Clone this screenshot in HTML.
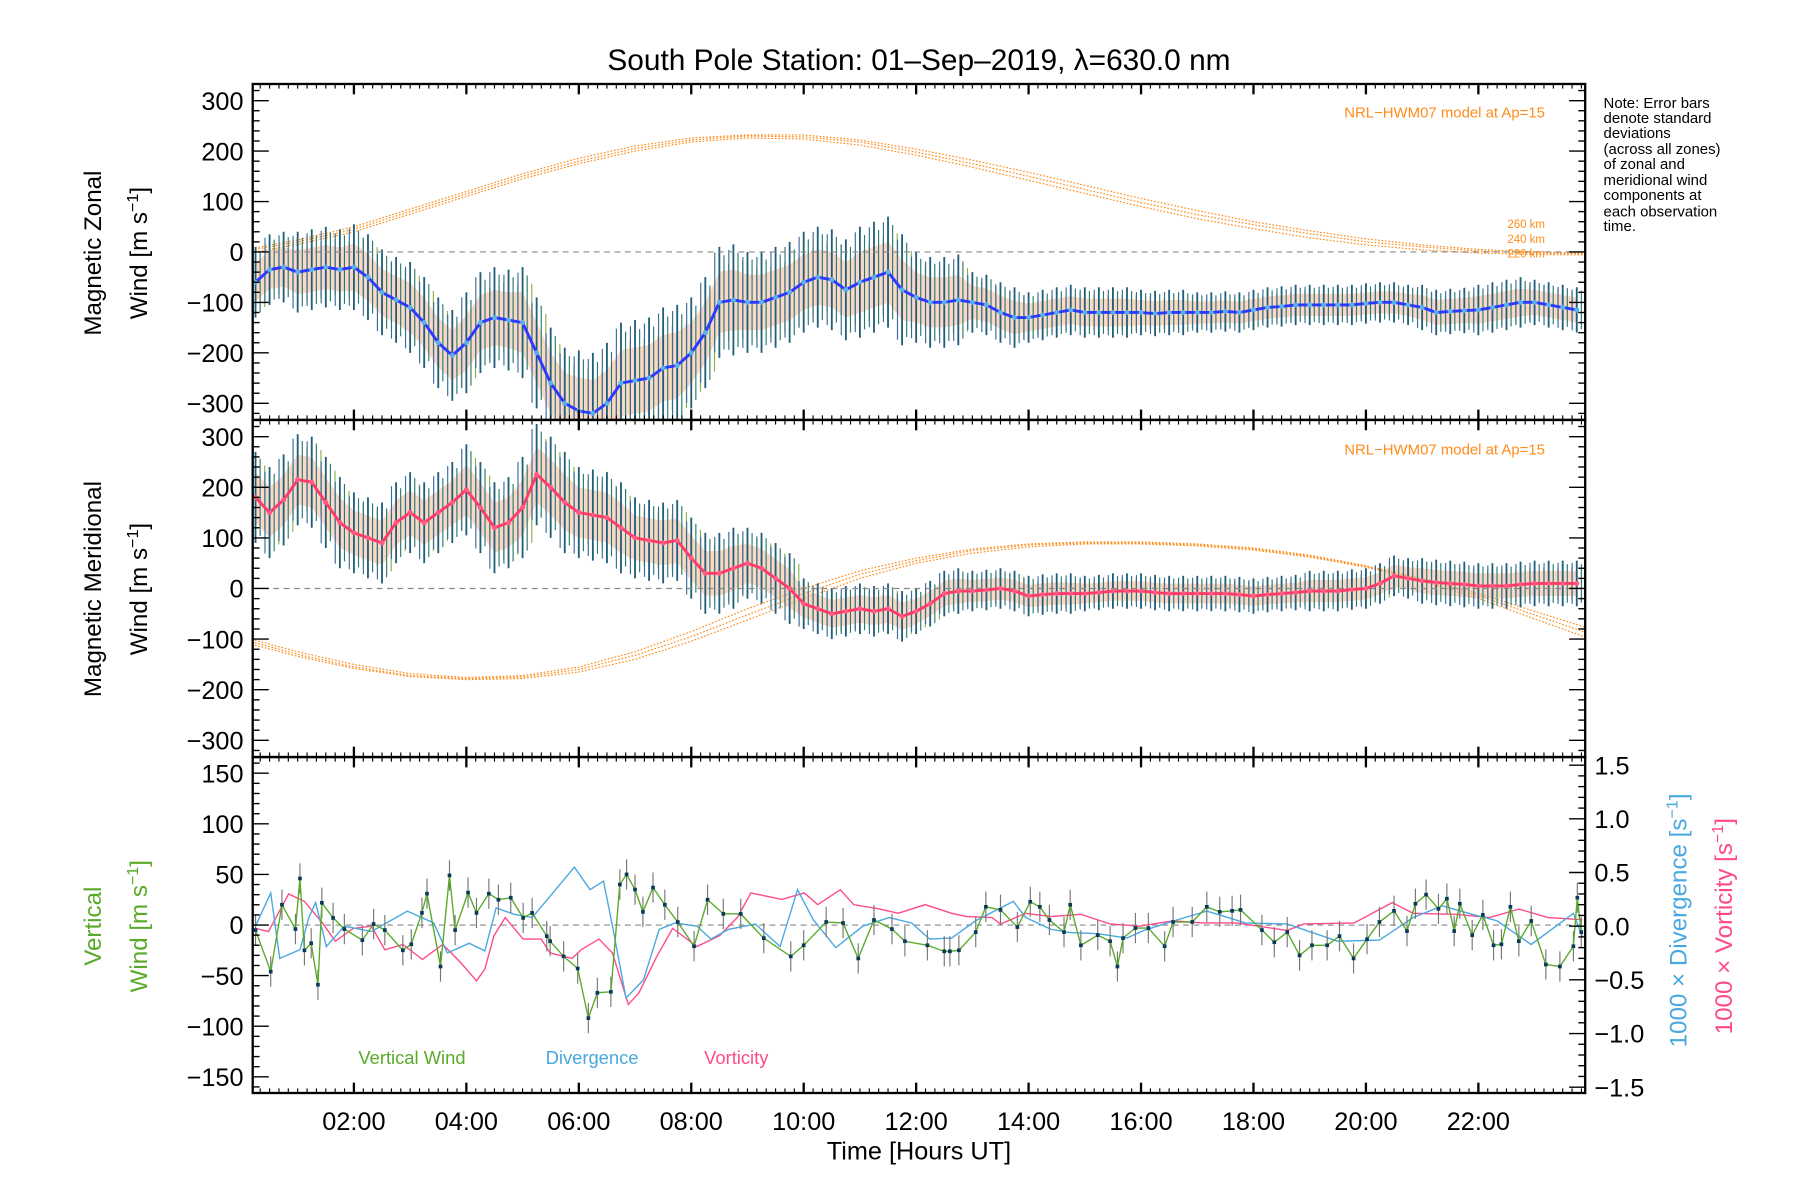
<!DOCTYPE html>
<html><head><meta charset="utf-8"><style>
html,body{margin:0;padding:0;background:#fff;}
svg{display:block;font-family:"Liberation Sans",sans-serif;}
</style></head><body>
<svg id="chart" width="1800" height="1200" viewBox="0 0 1567 1043" preserveAspectRatio="none" xmlns="http://www.w3.org/2000/svg">
<rect width="1567" height="1043" fill="#fff"/>
<text x="800" y="61" font-size="26" text-anchor="middle">South Pole Station: 01–Sep–2019, λ=630.0 nm</text>
<g id="marks"></g>
<g id="axes"></g>
<text transform="translate(88,220) rotate(-90)" font-size="21" text-anchor="middle">Magnetic  Zonal</text>
<text transform="translate(128,220) rotate(-90)" font-size="21" text-anchor="middle">Wind  [m  s<tspan baseline-shift="super" font-size="14">−1</tspan>]</text>
<text transform="translate(88,512) rotate(-90)" font-size="21" text-anchor="middle">Magnetic  Meridional</text>
<text transform="translate(128,512) rotate(-90)" font-size="21" text-anchor="middle">Wind  [m  s<tspan baseline-shift="super" font-size="14">−1</tspan>]</text>
<text transform="translate(88,805) rotate(-90)" font-size="21" text-anchor="middle" fill="#5aaa2a">Vertical</text>
<text transform="translate(128,805) rotate(-90)" font-size="21" text-anchor="middle" fill="#5aaa2a">Wind  [m  s<tspan baseline-shift="super" font-size="14">−1</tspan>]</text>
<text transform="translate(1468,800) rotate(-90)" font-size="21" text-anchor="middle" fill="#4aa8e0">1000  ×  Divergence  [s<tspan baseline-shift="super" font-size="14">−1</tspan>]</text>
<text transform="translate(1508,805) rotate(-90)" font-size="21" text-anchor="middle" fill="#ff4a8a">1000  ×  Vorticity  [s<tspan baseline-shift="super" font-size="14">−1</tspan>]</text>
<text x="800" y="1008" font-size="22" text-anchor="middle">Time [Hours UT]</text>
<g font-size="13">
<text x="1396" y="94">Note: Error bars</text><text x="1396" y="107">denote standard</text><text x="1396" y="120">deviations</text><text x="1396" y="134">(across all zones)</text><text x="1396" y="147">of zonal and</text><text x="1396" y="161">meridional wind</text><text x="1396" y="174">components at</text><text x="1396" y="188">each observation</text><text x="1396" y="201">time.</text>
</g>
<text x="1345" y="102" font-size="13" text-anchor="end" fill="#ff8c1a">NRL−HWM07 model at Ap=15</text>
<text x="1345" y="395" font-size="13" text-anchor="end" fill="#ff8c1a">NRL−HWM07 model at Ap=15</text>
<g font-size="10" fill="#ff8c1a" text-anchor="end">
<text x="1345" y="198">260 km</text>
<text x="1345" y="211">240 km</text>
<text x="1345" y="224">220 km</text>
</g>
<text x="312" y="925" font-size="16" fill="#5aaa2a">Vertical Wind</text>
<text x="475" y="925" font-size="16" fill="#4aa8e0">Divergence</text>
<text x="613" y="925" font-size="16" fill="#ff4a8a">Vorticity</text>
</svg>
<script>
const times = [];
for (let i = 1; i <= 95; i++) times.push(i * 0.25);
const zonalMean = [-60,-35,-30,-40,-35,-30,-35,-30,-50,-80,-95,-110,-140,-180,-205,-180,-140,-130,-135,-140,-200,-260,-300,-315,-320,-300,-260,-255,-250,-230,-225,-200,-160,-100,-95,-100,-100,-90,-80,-60,-50,-55,-75,-60,-50,-40,-75,-90,-100,-100,-95,-100,-105,-120,-130,-130,-125,-120,-115,-120,-120,-120,-120,-120,-122,-120,-120,-120,-120,-118,-120,-115,-110,-108,-105,-105,-105,-105,-105,-102,-100,-100,-105,-110,-120,-118,-116,-115,-110,-105,-100,-100,-105,-110,-115];
const meridMean = [180,150,175,215,210,170,130,110,100,90,130,150,130,150,170,195,160,120,130,160,225,200,170,150,145,140,120,100,95,90,95,60,30,30,40,50,40,20,0,-30,-40,-50,-45,-40,-45,-40,-55,-45,-30,-10,-5,-5,-3,0,-5,-15,-12,-10,-10,-10,-8,-5,-5,-5,-8,-10,-10,-10,-10,-10,-12,-15,-12,-10,-8,-5,-5,-5,-2,0,10,25,20,15,12,10,8,5,5,5,8,10,10,10,10];
const zonalSpread = [70,80,85,90,100,110,120,120,110,100,100,110,90,60,50,50,45,40,40,40,40,45,50,45];
const meridSpread = [90,90,80,80,90,100,90,80,80,70,50,50,45,40,40,35,35,35,35,40,40,45,45,45];
const modelHours = [0,1,2,3,4,5,6,7,8,9,10,11,12,13,14,15,16,17,18,19,20,21,22,23,24];
const zonalModel220 = [-5,15,40,75,110,145,175,200,218,226,224,212,192,168,142,116,90,66,46,28,14,4,-2,-5,-6];
const zonalModel240 = [0,20,45,80,115,150,180,205,222,230,228,218,198,175,150,124,98,74,54,36,20,10,2,-2,-4];
const zonalModel260 = [3,24,50,85,120,155,186,210,226,232,232,222,204,182,158,132,106,82,60,42,26,14,5,0,-3];
const meridModel220 = [-95,-125,-150,-168,-176,-172,-155,-125,-85,-40,0,35,60,78,88,92,92,88,80,66,45,20,-10,-45,-80];
const meridModel240 = [-100,-130,-155,-172,-178,-175,-160,-132,-95,-52,-10,28,55,75,86,90,90,86,78,64,44,18,-14,-52,-90];
const meridModel260 = [-105,-134,-158,-174,-180,-178,-165,-140,-104,-62,-20,20,50,70,82,88,88,84,76,62,42,15,-20,-60,-100];
const vwHours = [0.25,0.52,0.72,0.96,1.04,1.12,1.24,1.36,1.43,1.63,1.83,2.15,2.35,2.55,2.87,3.02,3.21,3.3,3.54,3.7,3.8,4.03,4.18,4.4,4.57,4.79,5.01,5.17,5.43,5.49,5.73,5.98,6.17,6.33,6.57,6.73,6.85,7.0,7.14,7.32,7.53,7.76,8.05,8.29,8.57,8.88,9.29,9.77,10.0,10.4,10.7,10.97,11.25,11.57,11.8,12.2,12.5,12.6,12.76,13.06,13.24,13.5,13.8,14.03,14.2,14.37,14.63,14.74,14.93,15.23,15.45,15.58,15.68,15.9,16.13,16.42,16.57,16.91,17.17,17.4,17.62,17.77,18.15,18.37,18.6,18.82,19.04,19.31,19.53,19.78,20.02,20.24,20.5,20.73,20.88,21.07,21.29,21.44,21.57,21.67,21.89,22.08,22.27,22.41,22.57,22.72,22.94,23.2,23.45,23.69,23.76,23.83];
const vertWind = [-5,-46,20,-4,46,-25,-18,-59,22,7,-4,-15,1,-5,-25,-19,12,31,-41,49,-5,32,12,31,25,27,7,12,-11,-16,-31,-43,-92,-67,-66,40,50,35,13,37,20,3,-21,25,11,11,-13,-31,-20,3,2,-33,5,-4,-16,-20,-26,-26,-25,-7,18,15,-2,23,18,5,-7,20,-20,-10,-16,-41,-13,-3,-3,-21,3,3,18,13,14,15,-5,-17,-7,-30,-20,-20,-11,-33,-14,3,14,-6,21,30,16,26,-6,21,-10,10,-20,-19,18,-16,4,-39,-41,-21,27,-7];
const divHours = [0.25,0.52,0.68,1.04,1.2,1.32,1.51,1.83,2.31,2.95,3.42,3.66,4.05,4.33,4.53,4.85,5.17,5.49,5.92,6.2,6.44,6.6,6.84,7.15,7.43,7.71,8.1,8.35,8.66,9.14,9.58,9.89,10.17,10.57,11.05,11.52,11.92,12.24,12.63,13.06,13.73,13.95,14.4,14.74,15.23,15.75,16.05,16.65,17.17,17.55,17.85,18.6,19.5,20.24,20.84,21.36,21.89,22.33,22.94,23.69,23.85];
const divergence = [0,0.31,-0.3,-0.22,0.08,0.22,-0.19,0,-0.05,0.14,0.03,-0.25,-0.16,-0.23,0.17,0.11,0.08,0.28,0.55,0.34,0.42,0,-0.67,-0.5,-0.03,0.03,0,-0.12,-0.03,0.02,-0.19,0.34,0.06,-0.2,0,0.08,0.03,-0.12,-0.11,0.05,0.23,0.08,-0.03,-0.06,-0.07,-0.11,-0.04,0.06,0.14,0.08,0.03,0.02,-0.14,-0.13,0.08,0.19,0.11,0.05,-0.17,0.12,-0.1];
const vortHours = [0.25,0.48,0.84,1.12,1.44,1.67,1.99,2.31,2.55,2.87,3.22,3.58,3.9,4.18,4.33,4.49,4.69,5.01,5.33,5.49,5.88,6.04,6.36,6.6,6.88,7.07,7.39,7.67,8.1,8.5,8.82,9.06,9.61,10.01,10.25,10.65,10.89,11.36,11.68,12.16,12.63,12.9,13.35,13.5,13.95,14.4,14.93,15.45,15.97,16.57,17.1,17.7,18.6,18.9,19.79,20.47,20.84,21.6,22.2,22.72,23.24,23.85];
const vorticity = [-0.02,-0.05,0.3,0.23,0.03,-0.14,-0.02,0,-0.22,-0.17,-0.31,-0.17,-0.34,-0.51,-0.4,-0.09,0.08,-0.12,-0.12,-0.25,-0.3,-0.22,-0.12,-0.25,-0.73,-0.62,-0.28,-0.02,-0.19,-0.09,0.08,0.31,0.25,0.31,0.2,0.34,0.2,0.16,0.12,0.2,0.12,0.09,0.08,0.02,0.12,0.09,0.11,0.02,0,0.05,0.03,0.03,-0.04,0.02,0.03,0.22,0.12,0.11,0.08,0.16,0.08,0.06];
const xTickHours = [2,4,6,8,10,12,14,16,18,20,22];
const xTickLabels = ["02:00","04:00","06:00","08:00","10:00","12:00","14:00","16:00","18:00","20:00","22:00"];
const windTicks = [-300,-200,-100,0,100,200,300];
const vertTicks = [-150,-100,-50,0,50,100,150];
const rightTicks = [-1.5,-1.0,-0.5,0.0,0.5,1.0,1.5];

const NS = "http://www.w3.org/2000/svg";
const X0 = 220, X1 = 1380, HMIN = 0.2, HMAX = 23.9;
const x = h => X0 + (h - HMIN) / (HMAX - HMIN) * (X1 - X0);
const P = [{top:73,bot:365,min:-333,max:333},{top:365,bot:658,min:-333,max:333},{top:658,bot:950,min:-166,max:166}];
const yOf = (p, v) => p.bot - (v - p.min) / (p.max - p.min) * (p.bot - p.top);
const yR = v => 805 - v * 93.3;
const marks = document.getElementById('marks');
const axes = document.getElementById('axes');
function mk(tag, attrs, parent) {
  const e = document.createElementNS(NS, tag);
  for (const k in attrs) e.setAttribute(k, attrs[k]);
  parent.appendChild(e);
  return e;
}
function clipV(p, v) { return Math.max(p.min, Math.min(p.max, v)); }

const defs = mk('defs', {}, marks);
P.forEach((p, i) => {
  const c = mk('clipPath', {id: 'clip' + i}, defs);
  mk('rect', {x: X0, y: p.top, width: X1 - X0, height: p.bot - p.top}, c);
});

function windPanel(pi, mean, spreadArr, models, lineColor, dotColor, bandColor) {
  const p = P[pi];
  const g = mk('g', {'clip-path': 'url(#clip' + pi + ')'}, marks);
  models.forEach((m) => {
    let d = '';
    modelHours.forEach((h, i) => { d += (i ? 'L' : 'M') + x(h).toFixed(1) + ',' + yOf(p, m[i]).toFixed(1); });
    const pth = mk('path', {d: d, fill: 'none', stroke: '#ff8c1a', 'stroke-width': 1, 'stroke-dasharray': '1.5 1.5'}, g);
    
    
  });
  let up = '', dn = '';
  times.forEach((h, i) => {
    const s = spreadArr[Math.min(23, Math.floor(h))] * 0.55;
    up += (i ? 'L' : 'M') + x(h).toFixed(1) + ',' + yOf(p, mean[i] + s).toFixed(1);
  });
  for (let i = times.length - 1; i >= 0; i--) {
    const s = spreadArr[Math.min(23, Math.floor(times[i]))] * 0.55;
    dn += 'L' + x(times[i]).toFixed(1) + ',' + yOf(p, mean[i] - s).toFixed(1);
  }
  const band = mk('path', {d: up + dn + 'Z', fill: bandColor, opacity: 0.55}, g);
  
  
  const offs = [[0, 1, '#1f5f7a', 1.6], [4, 0.85, '#2a7a6a', 1], [-4, 0.9, '#3a6a9a', 1], [8, 0.7, '#8ab04a', 1]];
  times.forEach((h, i) => {
    const s = spreadArr[Math.min(23, Math.floor(h))];
    offs.forEach(o => {
      const bar = mk('line', {x1: x(h) + o[0], x2: x(h) + o[0], y1: yOf(p, clipV(p, mean[i] + s * o[1])), y2: yOf(p, clipV(p, mean[i] - s * o[1])), stroke: o[2], 'stroke-width': o[3]}, g);
      
      
    });
  });
  const z = mk('line', {x1: X0, x2: X1, y1: yOf(p, 0), y2: yOf(p, 0), stroke: '#888', 'stroke-dasharray': '5 4', 'stroke-width': 1}, g);
  
  
  let d = '';
  times.forEach((h, i) => { d += (i ? 'L' : 'M') + x(h).toFixed(1) + ',' + yOf(p, mean[i]).toFixed(1); });
  const ln = mk('path', {d: d, fill: 'none', stroke: lineColor, 'stroke-width': 2.5}, g);
  
  
  times.forEach((h, i) => {
    const c = mk('circle', {cx: x(h), cy: yOf(p, mean[i]), r: 2.2, fill: dotColor}, g);
    
    
  });
}
windPanel(0, zonalMean, zonalSpread, [zonalModel220, zonalModel240, zonalModel260], '#2a3aff', '#5ab0e8', '#f6b89a');
windPanel(1, meridMean, meridSpread, [meridModel220, meridModel240, meridModel260], '#ff3a6a', '#ff5a80', '#f6b89a');

(function(){
  const p = P[2];
  const g = mk('g', {'clip-path': 'url(#clip2)'}, marks);
  const z = mk('line', {x1: X0, x2: X1, y1: yOf(p, 0), y2: yOf(p, 0), stroke: '#888', 'stroke-dasharray': '5 4'}, g);
  
  
  let d = '';
  vortHours.forEach((h, i) => { d += (i ? 'L' : 'M') + x(h).toFixed(1) + ',' + yR(vorticity[i]).toFixed(1); });
  const vl = mk('path', {d: d, fill: 'none', stroke: '#ff4a8a', 'stroke-width': 1.2}, g);
  
  
  d = '';
  divHours.forEach((h, i) => { d += (i ? 'L' : 'M') + x(h).toFixed(1) + ',' + yR(divergence[i]).toFixed(1); });
  const dl = mk('path', {d: d, fill: 'none', stroke: '#4aa8e0', 'stroke-width': 1.2}, g);
  
  
  vwHours.forEach((h, i) => {
    const e = mk('line', {x1: x(h), x2: x(h), y1: yOf(p, vertWind[i] + 15), y2: yOf(p, vertWind[i] - 15), stroke: '#777', 'stroke-width': 1}, g);
    
    
  });
  d = '';
  vwHours.forEach((h, i) => { d += (i ? 'L' : 'M') + x(h).toFixed(1) + ',' + yOf(p, vertWind[i]).toFixed(1); });
  const wl = mk('path', {d: d, fill: 'none', stroke: '#5aaa2a', 'stroke-width': 1.2}, g);
  
  
  vwHours.forEach((h, i) => {
    const c = mk('rect', {x: x(h) - 1.6, y: yOf(p, vertWind[i]) - 1.6, width: 3.2, height: 3.2, fill: '#0a3a5a'}, g);
    
    
  });
})();

P.forEach((p, pi) => {
  const fr = mk('rect', {x: X0, y: p.top, width: X1 - X0, height: p.bot - p.top, fill: 'none', stroke: '#000', 'stroke-width': 2}, axes);
  
  
  for (let m = 0; m <= 24 * 6; m++) {
    const h = m / 6;
    if (h < HMIN || h > HMAX) continue;
    const major = m % 12 === 0;
    const L = major ? 9 : 4;
    mk('line', {x1: x(h), x2: x(h), y1: p.bot, y2: p.bot - L, stroke: '#000', 'stroke-width': major ? 2 : 1}, axes);
    mk('line', {x1: x(h), x2: x(h), y1: p.top, y2: p.top + L, stroke: '#000', 'stroke-width': major ? 2 : 1}, axes);
  }
  const ticks = pi < 2 ? windTicks : vertTicks;
  const minorStep = pi < 2 ? 20 : 10;
  for (let v = Math.ceil(p.min / minorStep) * minorStep; v <= p.max; v += minorStep) {
    const y = yOf(p, v);
    const major = ticks.includes(v);
    const L = major ? 14 : 6;
    mk('line', {x1: X0, x2: X0 + L, y1: y, y2: y, stroke: '#000', 'stroke-width': 1.2}, axes);
    if (pi < 2) mk('line', {x1: X1, x2: X1 - L, y1: y, y2: y, stroke: '#000', 'stroke-width': 1.2}, axes);
  }
  ticks.forEach(v => {
    const t = mk('text', {x: 212, y: yOf(p, v) + 8, 'font-size': 22, 'text-anchor': 'end'}, axes);
    t.textContent = v < 0 ? '−' + Math.abs(v) : String(v);
    
    
  });
});
for (let v = -1.5; v <= 1.5001; v += 0.1) {
  const major = Math.abs(Math.round(v * 10) % 5) === 0;
  mk('line', {x1: X1, x2: X1 - (major ? 14 : 6), y1: yR(v), y2: yR(v), stroke: '#000', 'stroke-width': 1.2}, axes);
}
rightTicks.forEach(v => {
  const t = mk('text', {x: 1388, y: yR(v) + 8, 'font-size': 22}, axes);
  t.textContent = (v < 0 ? '−' : '') + Math.abs(v).toFixed(1);
  
  
});
xTickHours.forEach((h, i) => {
  const t = mk('text', {x: x(h), y: 982, 'font-size': 22, 'text-anchor': 'middle'}, axes);
  t.textContent = xTickLabels[i];
  
  
});
</script>
</body></html>
